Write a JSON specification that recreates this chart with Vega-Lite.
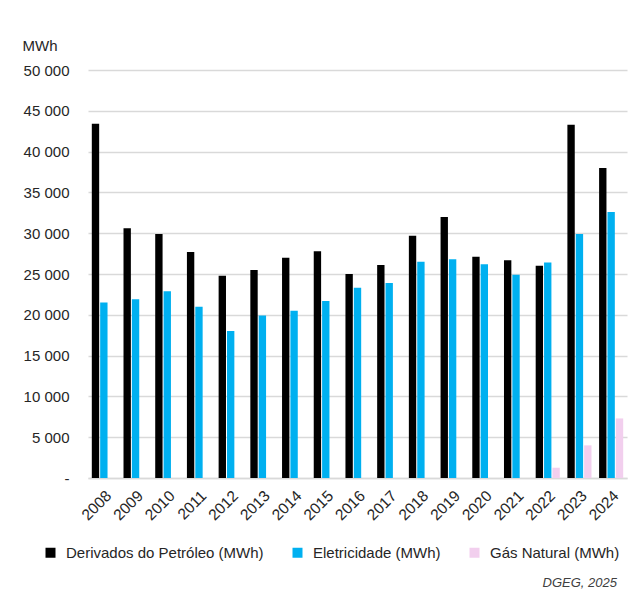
{
  "$schema": "https://vega.github.io/schema/vega-lite/v6.json",
  "width": 539,
  "height": 408,
  "autosize": {"type": "none"},
  "padding": {"left": 88, "top": 70, "right": 14, "bottom": 123},
  "background": "white",
  "config": {
    "font": "Liberation Sans",
    "view": {"stroke": null}
  },
  "title": {
    "text": "DGEG, 2025",
    "orient": "bottom",
    "anchor": "end",
    "fontStyle": "italic",
    "fontWeight": "normal",
    "fontSize": 13,
    "color": "#404040",
    "offset": 16,
    "dx": -10
  },
  "data": {
    "values": [
      {"year": "2008", "series": "Derivados do Petróleo (MWh)", "value": 43400},
      {"year": "2009", "series": "Derivados do Petróleo (MWh)", "value": 30600},
      {"year": "2010", "series": "Derivados do Petróleo (MWh)", "value": 29900},
      {"year": "2011", "series": "Derivados do Petróleo (MWh)", "value": 27700},
      {"year": "2012", "series": "Derivados do Petróleo (MWh)", "value": 24800},
      {"year": "2013", "series": "Derivados do Petróleo (MWh)", "value": 25500},
      {"year": "2014", "series": "Derivados do Petróleo (MWh)", "value": 27000},
      {"year": "2015", "series": "Derivados do Petróleo (MWh)", "value": 27800},
      {"year": "2016", "series": "Derivados do Petróleo (MWh)", "value": 25000},
      {"year": "2017", "series": "Derivados do Petróleo (MWh)", "value": 26100},
      {"year": "2018", "series": "Derivados do Petróleo (MWh)", "value": 29700},
      {"year": "2019", "series": "Derivados do Petróleo (MWh)", "value": 32000},
      {"year": "2020", "series": "Derivados do Petróleo (MWh)", "value": 27100},
      {"year": "2021", "series": "Derivados do Petróleo (MWh)", "value": 26700},
      {"year": "2022", "series": "Derivados do Petróleo (MWh)", "value": 26000},
      {"year": "2023", "series": "Derivados do Petróleo (MWh)", "value": 43300},
      {"year": "2024", "series": "Derivados do Petróleo (MWh)", "value": 38000},
      {"year": "2008", "series": "Eletricidade (MWh)", "value": 21500},
      {"year": "2009", "series": "Eletricidade (MWh)", "value": 21900},
      {"year": "2010", "series": "Eletricidade (MWh)", "value": 22900},
      {"year": "2011", "series": "Eletricidade (MWh)", "value": 21000},
      {"year": "2012", "series": "Eletricidade (MWh)", "value": 18000},
      {"year": "2013", "series": "Eletricidade (MWh)", "value": 19900},
      {"year": "2014", "series": "Eletricidade (MWh)", "value": 20500},
      {"year": "2015", "series": "Eletricidade (MWh)", "value": 21700},
      {"year": "2016", "series": "Eletricidade (MWh)", "value": 23300},
      {"year": "2017", "series": "Eletricidade (MWh)", "value": 23900},
      {"year": "2018", "series": "Eletricidade (MWh)", "value": 26500},
      {"year": "2019", "series": "Eletricidade (MWh)", "value": 26800},
      {"year": "2020", "series": "Eletricidade (MWh)", "value": 26200},
      {"year": "2021", "series": "Eletricidade (MWh)", "value": 24900},
      {"year": "2022", "series": "Eletricidade (MWh)", "value": 26400},
      {"year": "2023", "series": "Eletricidade (MWh)", "value": 29900},
      {"year": "2024", "series": "Eletricidade (MWh)", "value": 32600},
      {"year": "2008", "series": "Gás Natural (MWh)", "value": 0},
      {"year": "2009", "series": "Gás Natural (MWh)", "value": 0},
      {"year": "2010", "series": "Gás Natural (MWh)", "value": 0},
      {"year": "2011", "series": "Gás Natural (MWh)", "value": 0},
      {"year": "2012", "series": "Gás Natural (MWh)", "value": 0},
      {"year": "2013", "series": "Gás Natural (MWh)", "value": 0},
      {"year": "2014", "series": "Gás Natural (MWh)", "value": 0},
      {"year": "2015", "series": "Gás Natural (MWh)", "value": 0},
      {"year": "2016", "series": "Gás Natural (MWh)", "value": 0},
      {"year": "2017", "series": "Gás Natural (MWh)", "value": 0},
      {"year": "2018", "series": "Gás Natural (MWh)", "value": 0},
      {"year": "2019", "series": "Gás Natural (MWh)", "value": 0},
      {"year": "2020", "series": "Gás Natural (MWh)", "value": 0},
      {"year": "2021", "series": "Gás Natural (MWh)", "value": 0},
      {"year": "2022", "series": "Gás Natural (MWh)", "value": 1260},
      {"year": "2023", "series": "Gás Natural (MWh)", "value": 4000},
      {"year": "2024", "series": "Gás Natural (MWh)", "value": 7300}
    ]
  },
  "mark": {"type": "bar"},
  "encoding": {
    "x": {
      "field": "year",
      "type": "nominal",
      "scale": {"paddingInner": 0.24, "paddingOuter": 0.12},
      "axis": {
        "title": null,
        "labelAngle": -45,
        "labelFontSize": 15.5,
        "labelColor": "#262626",
        "labelPadding": 10,
        "ticks": false,
        "domainColor": "#d9d9d9",
        "domainWidth": 1.5
      }
    },
    "xOffset": {
      "field": "series",
      "type": "nominal",
      "sort": ["Derivados do Petróleo (MWh)", "Eletricidade (MWh)", "Gás Natural (MWh)"],
      "scale": {"paddingInner": 0.12}
    },
    "y": {
      "field": "value",
      "type": "quantitative",
      "scale": {"domain": [0, 50000], "nice": false},
      "axis": {
        "title": "MWh",
        "titleAngle": 0,
        "titleAlign": "left",
        "titleBaseline": "alphabetic",
        "titleX": -66,
        "titleY": -20,
        "titleFontSize": 15,
        "titleFontWeight": "normal",
        "titleColor": "#262626",
        "values": [0, 5000, 10000, 15000, 20000, 25000, 30000, 35000, 40000, 45000, 50000],
        "labelExpr": "datum.value == 0 ? '-' : replace(format(datum.value, ','), ',', ' ')",
        "labelFontSize": 15,
        "labelColor": "#262626",
        "labelPadding": 19,
        "ticks": false,
        "domain": false,
        "gridColor": "#d9d9d9",
        "gridWidth": 1.5
      }
    },
    "color": {
      "field": "series",
      "type": "nominal",
      "sort": ["Derivados do Petróleo (MWh)", "Eletricidade (MWh)", "Gás Natural (MWh)"],
      "scale": {
        "domain": ["Derivados do Petróleo (MWh)", "Eletricidade (MWh)", "Gás Natural (MWh)"],
        "range": ["#000000", "#00B0F0", "#F2CFEE"]
      },
      "legend": {
        "title": null,
        "orient": "none",
        "direction": "horizontal",
        "legendX": -45,
        "legendY": 475,
        "symbolType": "square",
        "symbolSize": 100,
        "symbolStrokeWidth": 0,
        "labelFontSize": 15,
        "labelColor": "#262626",
        "labelOffset": 8,
        "columnPadding": 26,
        "labelLimit": 300
      }
    }
  }
}
